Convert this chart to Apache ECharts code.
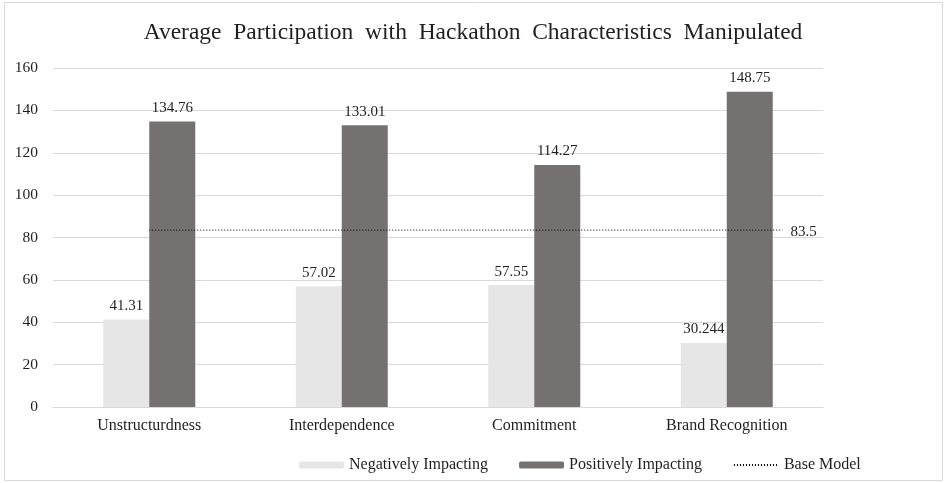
<!DOCTYPE html>
<html>
<head>
<meta charset="utf-8">
<script src="https://cdn.jsdelivr.net/npm/echarts@6/dist/echarts.min.js"></script>
<style>
  html, body { margin: 0; padding: 0; background: #fff; }
  #chart { width: 946px; height: 483px; }
</style>
</head>
<body>
<div id="chart"></div>
<script>
// Categories and values
var categories = ['Unstructurdness', 'Interdependence', 'Commitment', 'Brand Recognition'];
var negativeValues = [41.31, 57.02, 57.55, 30.244];
var positiveValues = [134.76, 133.01, 114.27, 148.75];
var baseModelValue = 83.5;
// Horizontal extent of the base-model reference line, in category units
var baseModelSpan = [0.5, 3.79];
var yTicks = { min: 0, max: 160, interval: 20 };

var FONT = '"Liberation Serif", "Times New Roman", serif';
var TEXT = '#1f1f1f';

var chart = echarts.init(document.getElementById('chart'), null, { renderer: 'canvas' });

var baseModelData = baseModelSpan.map(function (x) { return [x, baseModelValue]; });

chart.setOption({
  backgroundColor: '#ffffff',
  animation: false,
  textStyle: { fontFamily: FONT },
  title: {
    text: 'Average  Participation  with  Hackathon  Characteristics  Manipulated',
    left: 'center',
    top: 16,
    textStyle: { fontFamily: FONT, fontSize: 23.5, fontWeight: 'normal', color: TEXT }
  },
  graphic: [{
    type: 'rect',
    shape: { x: 4.5, y: 2.5, width: 938, height: 478 },
    style: { fill: 'none', stroke: '#d9d9d9', lineWidth: 1 },
    silent: true,
    z: -1
  }],
  legend: {
    left: 294,
    top: 452,
    itemWidth: 45,
    itemHeight: 7,
    itemGap: 31,
    textStyle: { fontFamily: FONT, fontSize: 16, color: TEXT },
    data: [
      'Negatively Impacting',
      'Positively Impacting',
      { name: 'Base Model', itemStyle: { color: 'transparent', borderWidth: 0 } }
    ]
  },
  grid: { left: 53, right: 123, top: 68, bottom: 76, containLabel: false },
  xAxis: [{
    type: 'category',
    data: categories,
    axisLine: { show: true, lineStyle: { color: '#d9d9d9', width: 1 } },
    axisTick: { show: false },
    axisLabel: { fontFamily: FONT, fontSize: 16, color: TEXT, margin: 11 }
  }, {
    type: 'value',
    min: 0,
    max: categories.length,
    show: false
  }],
  yAxis: {
    type: 'value',
    min: yTicks.min,
    max: yTicks.max,
    interval: yTicks.interval,
    axisLine: { show: false },
    axisTick: { show: false },
    splitLine: { lineStyle: { color: '#d9d9d9', width: 1 } },
    axisLabel: { fontFamily: FONT, fontSize: 15.5, color: TEXT, margin: 15 }
  },
  series: [{
    name: 'Negatively Impacting',
    type: 'bar',
    data: negativeValues,
    barWidth: 46,
    barGap: '0%',
    itemStyle: { color: '#e7e6e6' },
    label: {
      show: true, position: 'top', distance: 6,
      fontFamily: FONT, fontSize: 15, color: TEXT
    }
  }, {
    name: 'Positively Impacting',
    type: 'bar',
    data: positiveValues,
    barWidth: 46,
    barGap: '0%',
    itemStyle: { color: '#767171' },
    label: {
      show: true, position: 'top', distance: 6,
      fontFamily: FONT, fontSize: 15, color: TEXT
    }
  }, {
    name: 'Base Model',
    type: 'line',
    xAxisIndex: 1,
    data: baseModelData,
    symbol: 'none',
    z: 5,
    lineStyle: { color: '#000000', width: 1, type: [1, 2] },
    itemStyle: { color: '#000000' },
    endLabel: {
      show: true,
      distance: 8,
      offset: [0, 2],
      fontFamily: FONT, fontSize: 15, color: TEXT,
      formatter: function (p) { return String(p.value[1]); }
    }
  }]
});
</script>
</body>
</html>
